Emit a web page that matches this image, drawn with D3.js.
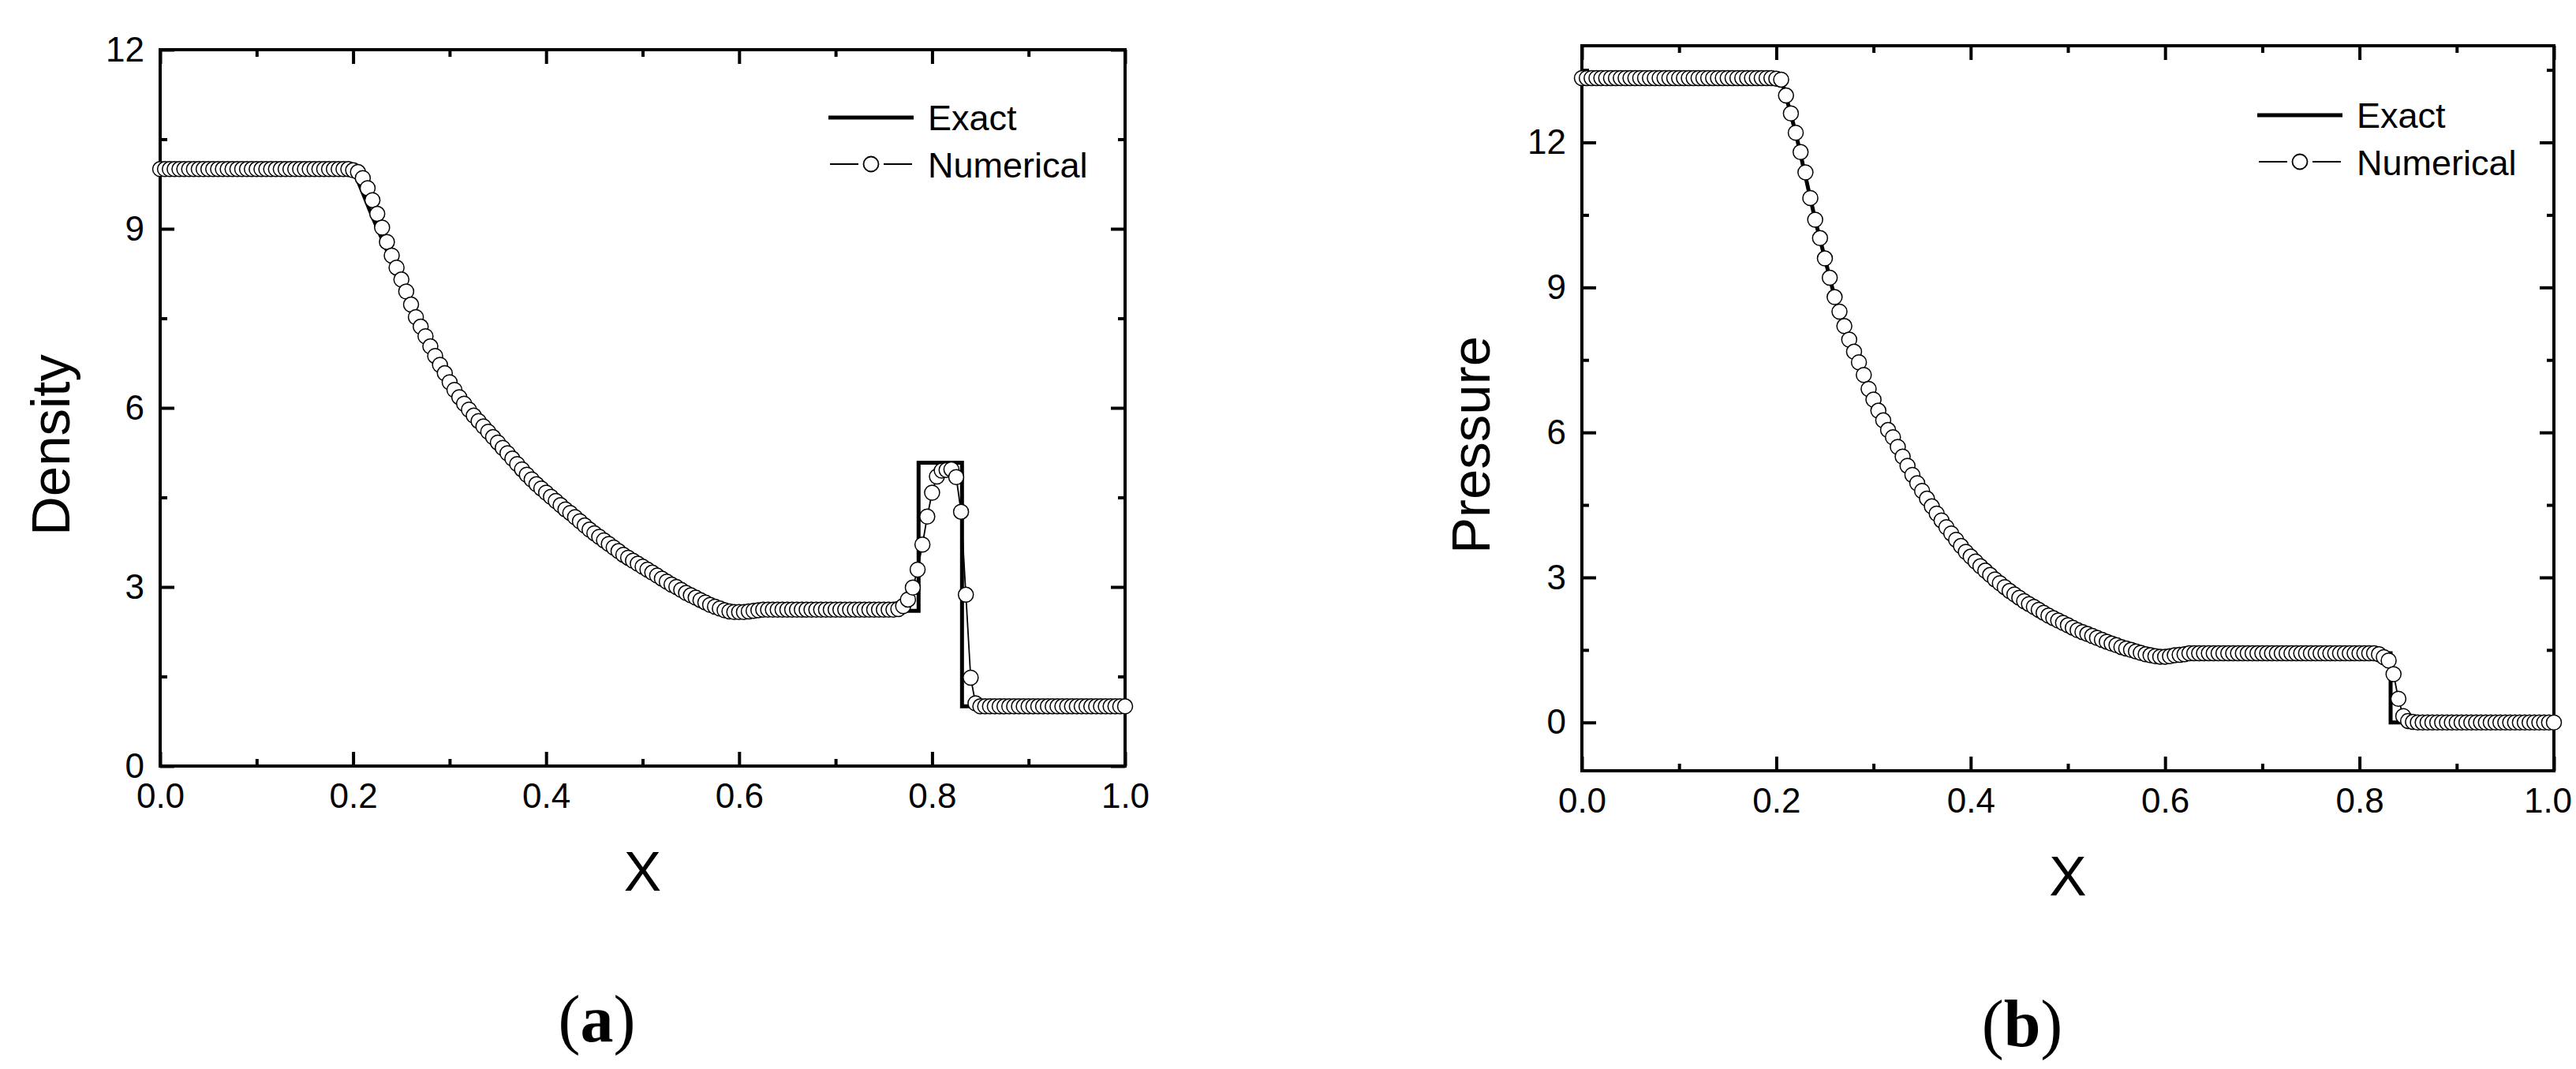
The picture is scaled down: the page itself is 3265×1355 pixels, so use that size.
<!DOCTYPE html>
<html><head><meta charset="utf-8">
<script src="https://cdn.jsdelivr.net/npm/d3@7"></script>
<style>body{margin:0;background:#fff}svg{display:block}</style>
</head><body>
<script>
const numX = [0,0.005,0.01,0.015,0.02,0.025,0.03,0.035,0.04,0.045,0.05,0.055,0.06,0.065,0.07,0.075,0.08,0.085,0.09,0.095,
0.1,0.105,0.11,0.115,0.12,0.125,0.13,0.135,0.14,0.145,0.15,0.155,0.16,0.165,0.17,0.175,0.18,0.185,0.19,0.195,
0.2,0.205,0.21,0.215,0.22,0.225,0.23,0.235,0.24,0.245,0.25,0.255,0.26,0.265,0.27,0.275,0.28,0.285,0.29,0.295,
0.3,0.305,0.31,0.315,0.32,0.325,0.33,0.335,0.34,0.345,0.35,0.355,0.36,0.365,0.37,0.375,0.38,0.385,0.39,0.395,
0.4,0.405,0.41,0.415,0.42,0.425,0.43,0.435,0.44,0.445,0.45,0.455,0.46,0.465,0.47,0.475,0.48,0.485,0.49,0.495,
0.5,0.505,0.51,0.515,0.52,0.525,0.53,0.535,0.54,0.545,0.55,0.555,0.56,0.565,0.57,0.575,0.58,0.585,0.59,0.595,
0.6,0.605,0.61,0.615,0.62,0.625,0.63,0.635,0.64,0.645,0.65,0.655,0.66,0.665,0.67,0.675,0.68,0.685,0.69,0.695,
0.7,0.705,0.71,0.715,0.72,0.725,0.73,0.735,0.74,0.745,0.75,0.755,0.76,0.765,0.77,0.775,0.78,0.785,0.79,0.795,
0.8,0.805,0.81,0.815,0.82,0.825,0.83,0.835,0.84,0.845,0.85,0.855,0.86,0.865,0.87,0.875,0.88,0.885,0.89,0.895,
0.9,0.905,0.91,0.915,0.92,0.925,0.93,0.935,0.94,0.945,0.95,0.955,0.96,0.965,0.97,0.975,0.98,0.985,0.99,0.995,1.0];

const densityNum = [10,10,10,10,10,10,10,10,10,10,10,10,10,10,10,10,10,10,10,10,
10,10,10,10,10,10,10,10,10,10,10,10,10,10,10,10,10,10,10,10,
9.98,9.95,9.85,9.68,9.48,9.25,9.02,8.78,8.55,8.35,
8.15,7.95,7.73,7.52,7.36,7.2,7.03,6.87,6.72,6.58,
6.43,6.3,6.18,6.07,5.97,5.87,5.78,5.69,5.6,5.51,
5.42,5.33,5.24,5.15,5.06,4.97,4.88,4.8,4.72,4.65,
4.58,4.51,4.44,4.37,4.3,4.24,4.17,4.1,4.03,3.96,
3.9,3.84,3.78,3.72,3.66,3.6,3.54,3.49,3.44,3.39,
3.34,3.29,3.24,3.19,3.14,3.09,3.04,3.0,2.95,2.9,
2.86,2.82,2.78,2.74,2.7,2.67,2.64,2.61,2.59,2.58,
2.58,2.58,2.59,2.6,2.61,2.62,2.62,2.62,2.62,2.62,
2.62,2.62,2.62,2.62,2.62,2.62,2.62,2.62,2.62,2.62,
2.62,2.62,2.62,2.62,2.62,2.62,2.62,2.62,2.62,2.62,
2.62,2.62,2.62,2.63,2.68,2.79,2.99,3.29,3.71,4.18,
4.58,4.85,4.95,4.96,4.97,4.84,4.26,2.87,1.48,1.05,
1,1,1,1,1,1,1,1,1,1,
1,1,1,1,1,1,1,1,1,1,1,1,1,1,1,1,1,1,1,1,1];

const pressureNum = [13.33,13.33,13.33,13.33,13.33,13.33,13.33,13.33,13.33,13.33,13.33,13.33,13.33,13.33,13.33,13.33,13.33,13.33,13.33,13.33,
13.33,13.33,13.33,13.33,13.33,13.33,13.33,13.33,13.33,13.33,13.33,13.33,13.33,13.33,13.33,13.33,13.33,13.33,13.33,13.33,
13.32,13.3,12.97,12.6,12.2,11.8,11.38,10.85,10.4,10.02,
9.6,9.2,8.8,8.5,8.2,7.92,7.67,7.45,7.19,6.9,
6.68,6.45,6.25,6.05,5.9,5.7,5.5,5.31,5.12,4.95,
4.79,4.63,4.47,4.32,4.18,4.04,3.91,3.78,3.65,3.53,
3.43,3.33,3.23,3.14,3.05,2.96,2.88,2.8,2.72,2.65,
2.58,2.51,2.45,2.39,2.33,2.27,2.21,2.16,2.11,2.06,
2.01,1.96,1.91,1.87,1.83,1.79,1.75,1.71,1.67,1.63,
1.6,1.56,1.53,1.5,1.47,1.44,1.41,1.39,1.37,1.36,
1.36,1.37,1.39,1.4,1.41,1.43,1.43,1.43,1.43,1.43,
1.43,1.43,1.43,1.43,1.43,1.43,1.43,1.43,1.43,1.43,
1.43,1.43,1.43,1.43,1.43,1.43,1.43,1.43,1.43,1.43,
1.43,1.43,1.43,1.43,1.43,1.43,1.43,1.43,1.43,1.43,
1.43,1.43,1.43,1.43,1.41,1.35,1.28,1.0,0.49,0.13,
0.03,0.01,0,0,0,0,0,0,0,0,
0,0,0,0,0,0,0,0,0,0,0,0,0,0,0,0,0,0,0,0,0];

const densityExactX = [0,0.2,0.22,0.24,0.26,0.28,0.30,0.32,0.34,0.36,0.38,0.40,0.42,0.44,0.46,0.48,0.50,0.52,0.54,0.56,0.585,0.786,0.786,0.831,0.831,1.0];
const densityExactY = [10,10,9.2,8.45,7.75,7.1,6.5,5.95,5.55,5.2,4.85,4.55,4.27,4.0,3.76,3.53,3.32,3.12,2.94,2.77,2.6,2.6,5.08,5.08,1.0,1.0];
const pressureExactX = [0,0.205,0.22,0.24,0.26,0.28,0.30,0.32,0.34,0.36,0.38,0.40,0.42,0.44,0.46,0.48,0.50,0.52,0.54,0.56,0.59,0.832,0.832,1.0];
const pressureExactY = [13.33,13.33,12.2,10.4,8.8,7.65,6.65,5.88,5.12,4.47,3.9,3.42,3.04,2.71,2.44,2.2,2.0,1.82,1.66,1.52,1.43,1.43,0,0];

const xMajor = [0,0.2,0.4,0.6,0.8,1.0];
const xMinor = [0.1,0.3,0.5,0.7,0.9];
const yMajor = [0,3,6,9,12];
const densityYMinor = [1.5,4.5,7.5,10.5];
const pressureYMinor = [1.5,4.5,7.5,10.5,13.5];
const legendLabels = ["Exact","Numerical"];
const panelLabels = ["a","b"];

const W = 3265, H = 1355;
const svg = d3.select("body").append("svg").attr("width", W).attr("height", H);
const FONT = "'Liberation Sans', Arial, sans-serif";

function panel(o) {
  const x = d3.scaleLinear().domain([0,1]).range([o.l, o.r]);
  const y = d3.scaleLinear().domain(o.ydom).range([o.b, o.t]);
  const g = svg.append("g");
  const styleAxis = sel => {
    sel.select(".domain").remove();
    sel.selectAll("line").attr("stroke","#000").attr("stroke-width",4);
    sel.selectAll("text").attr("font-family",FONT).attr("font-size",44).attr("fill","#000");
  };
  const bx = g.append("g").attr("transform",`translate(0,${o.b})`)
    .call(d3.axisBottom(x).tickValues(xMajor).tickFormat(d3.format(".1f")).tickSize(-18).tickPadding(22)).call(styleAxis);
  if (o.lastShift) bx.selectAll(".tick").filter(d=>d===1).select("text").attr("dx", -o.lastShift);
  g.append("g").attr("transform",`translate(0,${o.b})`)
    .call(d3.axisBottom(x).tickValues(xMinor).tickFormat("").tickSize(-9)).call(styleAxis);
  g.append("g").attr("transform",`translate(0,${o.t})`)
    .call(d3.axisTop(x).tickValues(xMajor).tickFormat("").tickSize(-18)).call(styleAxis);
  g.append("g").attr("transform",`translate(0,${o.t})`)
    .call(d3.axisTop(x).tickValues(xMinor).tickFormat("").tickSize(-9)).call(styleAxis);
  g.append("g").attr("transform",`translate(${o.l},0)`)
    .call(d3.axisLeft(y).tickValues(yMajor).tickFormat(d3.format("d")).tickSize(-18).tickPadding(20)).call(styleAxis);
  g.append("g").attr("transform",`translate(${o.l},0)`)
    .call(d3.axisLeft(y).tickValues(o.yMinor).tickFormat("").tickSize(-9)).call(styleAxis);
  g.append("g").attr("transform",`translate(${o.r},0)`)
    .call(d3.axisRight(y).tickValues(yMajor).tickFormat("").tickSize(-18)).call(styleAxis);
  g.append("g").attr("transform",`translate(${o.r},0)`)
    .call(d3.axisRight(y).tickValues(o.yMinor).tickFormat("").tickSize(-9)).call(styleAxis);
  g.append("rect").attr("x",o.l).attr("y",o.t).attr("width",o.r-o.l).attr("height",o.b-o.t)
    .attr("fill","none").attr("stroke","#000").attr("stroke-width",4);

  const line = d3.line().x(d=>x(d[0])).y(d=>y(d[1]));
  const exact = o.ex.map((v,i)=>[v,o.ey[i]]);
  const num = numX.map((v,i)=>[v,o.ny[i]]);
  g.append("path").attr("d",line(exact)).attr("fill","none").attr("stroke","#000").attr("stroke-width",5).attr("stroke-linejoin","miter");
  g.append("path").attr("d",line(num)).attr("fill","none").attr("stroke","#000").attr("stroke-width",1.8);
  g.append("g").selectAll("circle").data(num).join("circle")
    .attr("cx",d=>x(d[0])).attr("cy",d=>y(d[1])).attr("r",9.5)
    .attr("fill","#fff").attr("stroke","#000").attr("stroke-width",1.5);

  // legend
  const lx = o.r - 376;
  g.append("line").attr("x1",lx).attr("x2",lx+108).attr("y1",o.t+o.lg).attr("y2",o.t+o.lg).attr("stroke","#000").attr("stroke-width",5);
  g.append("text").attr("x",lx+126).attr("y",o.t+o.lg+16).text(legendLabels[0]).attr("font-family",FONT).attr("font-size",45);
  const ly = o.t+o.lg+59;
  g.append("line").attr("x1",lx+2).attr("x2",lx+38).attr("y1",ly).attr("y2",ly).attr("stroke","#000").attr("stroke-width",1.8);
  g.append("line").attr("x1",lx+70).attr("x2",lx+106).attr("y1",ly).attr("y2",ly).attr("stroke","#000").attr("stroke-width",1.8);
  g.append("circle").attr("cx",lx+54).attr("cy",ly).attr("r",9.5).attr("fill","#fff").attr("stroke","#000").attr("stroke-width",1.8);
  g.append("text").attr("x",lx+126).attr("y",ly+17).text(legendLabels[1]).attr("font-family",FONT).attr("font-size",45);

  // axis titles
  const cx = (o.l+o.r)/2;
  g.append("text").attr("x",cx).attr("y",o.b+158).attr("text-anchor","middle").text("X")
    .attr("font-family",FONT).attr("font-size",71);
  g.append("text").attr("transform",`translate(${o.ytx},564) rotate(-90)`).attr("text-anchor","middle").text(o.ytitle)
    .attr("font-family",FONT).attr("font-size",69);
  const pl = g.append("text").attr("x",cx-58).attr("y",o.b+349).attr("text-anchor","middle")
    .attr("font-family","'Liberation Serif','Times New Roman',serif").attr("font-size",84);
  pl.append("tspan").text("(");
  pl.append("tspan").attr("font-weight","bold").text(o.pl);
  pl.append("tspan").text(")");
}

panel({l:203,r:1426,t:63,b:971,ydom:[0,12],yMinor:densityYMinor,ex:densityExactX,ey:densityExactY,ny:densityNum,
  ytitle:"Density",ytx:88,pl:panelLabels[0],lg:86,lastShift:0});
panel({l:2005,r:3237,t:58,b:977,ydom:[-1,14],yMinor:pressureYMinor,ex:pressureExactX,ey:pressureExactY,ny:pressureNum,
  ytitle:"Pressure",ytx:1888,pl:panelLabels[1],lg:88,lastShift:8});
</script>
</body></html>
